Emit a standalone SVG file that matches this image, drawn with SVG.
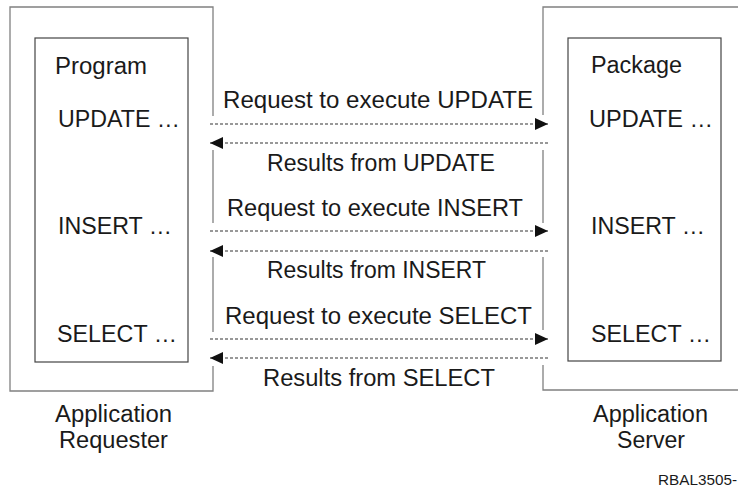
<svg xmlns="http://www.w3.org/2000/svg" width="738" height="492" viewBox="0 0 738 492">
<style>
.outer{fill:none;stroke:#808080;stroke-width:1.3}
.inner{fill:none;stroke:#444;stroke-width:1.2}
.t{font-family:"Liberation Sans",Arial,sans-serif;font-size:23.5px;fill:#1a1a1a}
.arr{fill:none;stroke:#333;stroke-width:1.2;stroke-dasharray:3 2}
</style>
<defs>
<marker id="ah" markerUnits="userSpaceOnUse" markerWidth="13" markerHeight="12" refX="13" refY="6" orient="auto">
<path d="M0,0 L13,6 L0,12 Z" fill="#111"/>
</marker>
</defs>
<rect width="738" height="492" fill="#fff"/>
<g id="requester">
<path class="outer" d="M213,116 V7 H10 V391 H213 V366 M213,150 V223 M213,257 V332"/>
<rect class="inner" x="35" y="38" width="153" height="324"/>
<text class="t" x="55" y="74" textLength="92" lengthAdjust="spacingAndGlyphs">Program</text>
<text class="t" x="58" y="127" textLength="122" lengthAdjust="spacingAndGlyphs">UPDATE …</text>
<text class="t" x="58" y="234" textLength="114" lengthAdjust="spacingAndGlyphs">INSERT …</text>
<text class="t" x="57" y="342" textLength="120" lengthAdjust="spacingAndGlyphs">SELECT …</text>
<text class="t" x="55" y="422" textLength="117" lengthAdjust="spacingAndGlyphs">Application</text>
<text class="t" x="59" y="448" textLength="109" lengthAdjust="spacingAndGlyphs">Requester</text>
</g>
<g id="server">
<path class="outer" d="M543,115 V7 H740 M543,150 V223 M543,257 V330 M543,365 V390 H740"/>
<rect class="inner" x="568" y="38" width="153" height="323"/>
<text class="t" x="591" y="73" textLength="91" lengthAdjust="spacingAndGlyphs">Package</text>
<text class="t" x="589" y="127" textLength="124" lengthAdjust="spacingAndGlyphs">UPDATE …</text>
<text class="t" x="591" y="234" textLength="114" lengthAdjust="spacingAndGlyphs">INSERT …</text>
<text class="t" x="591" y="342" textLength="120" lengthAdjust="spacingAndGlyphs">SELECT …</text>
<text class="t" x="593" y="422" textLength="115" lengthAdjust="spacingAndGlyphs">Application</text>
<text class="t" x="617" y="448" textLength="68" lengthAdjust="spacingAndGlyphs">Server</text>
</g>
<g id="connectors">
<line class="arr" x1="210" y1="124" x2="548" y2="124" marker-end="url(#ah)"/>
<line class="arr" x1="548" y1="143" x2="210" y2="143" marker-end="url(#ah)"/>
<line class="arr" x1="210" y1="231" x2="548" y2="231" marker-end="url(#ah)"/>
<line class="arr" x1="548" y1="251" x2="210" y2="251" marker-end="url(#ah)"/>
<line class="arr" x1="210" y1="339" x2="548" y2="339" marker-end="url(#ah)"/>
<line class="arr" x1="548" y1="358" x2="210" y2="358" marker-end="url(#ah)"/>
<text class="t" x="223" y="108" textLength="310" lengthAdjust="spacingAndGlyphs">Request to execute UPDATE</text>
<text class="t" x="267" y="171" textLength="228" lengthAdjust="spacingAndGlyphs">Results from UPDATE</text>
<text class="t" x="227" y="216" textLength="296" lengthAdjust="spacingAndGlyphs">Request to execute INSERT</text>
<text class="t" x="267" y="278" textLength="219" lengthAdjust="spacingAndGlyphs">Results from INSERT</text>
<text class="t" x="225" y="324" textLength="307" lengthAdjust="spacingAndGlyphs">Request to execute SELECT</text>
<text class="t" x="263" y="386" textLength="232" lengthAdjust="spacingAndGlyphs">Results from SELECT</text>
</g>
<text x="658" y="485" font-family="Liberation Sans,Arial,sans-serif" font-size="15" fill="#1a1a1a" textLength="79" lengthAdjust="spacingAndGlyphs">RBAL3505-</text>
</svg>
